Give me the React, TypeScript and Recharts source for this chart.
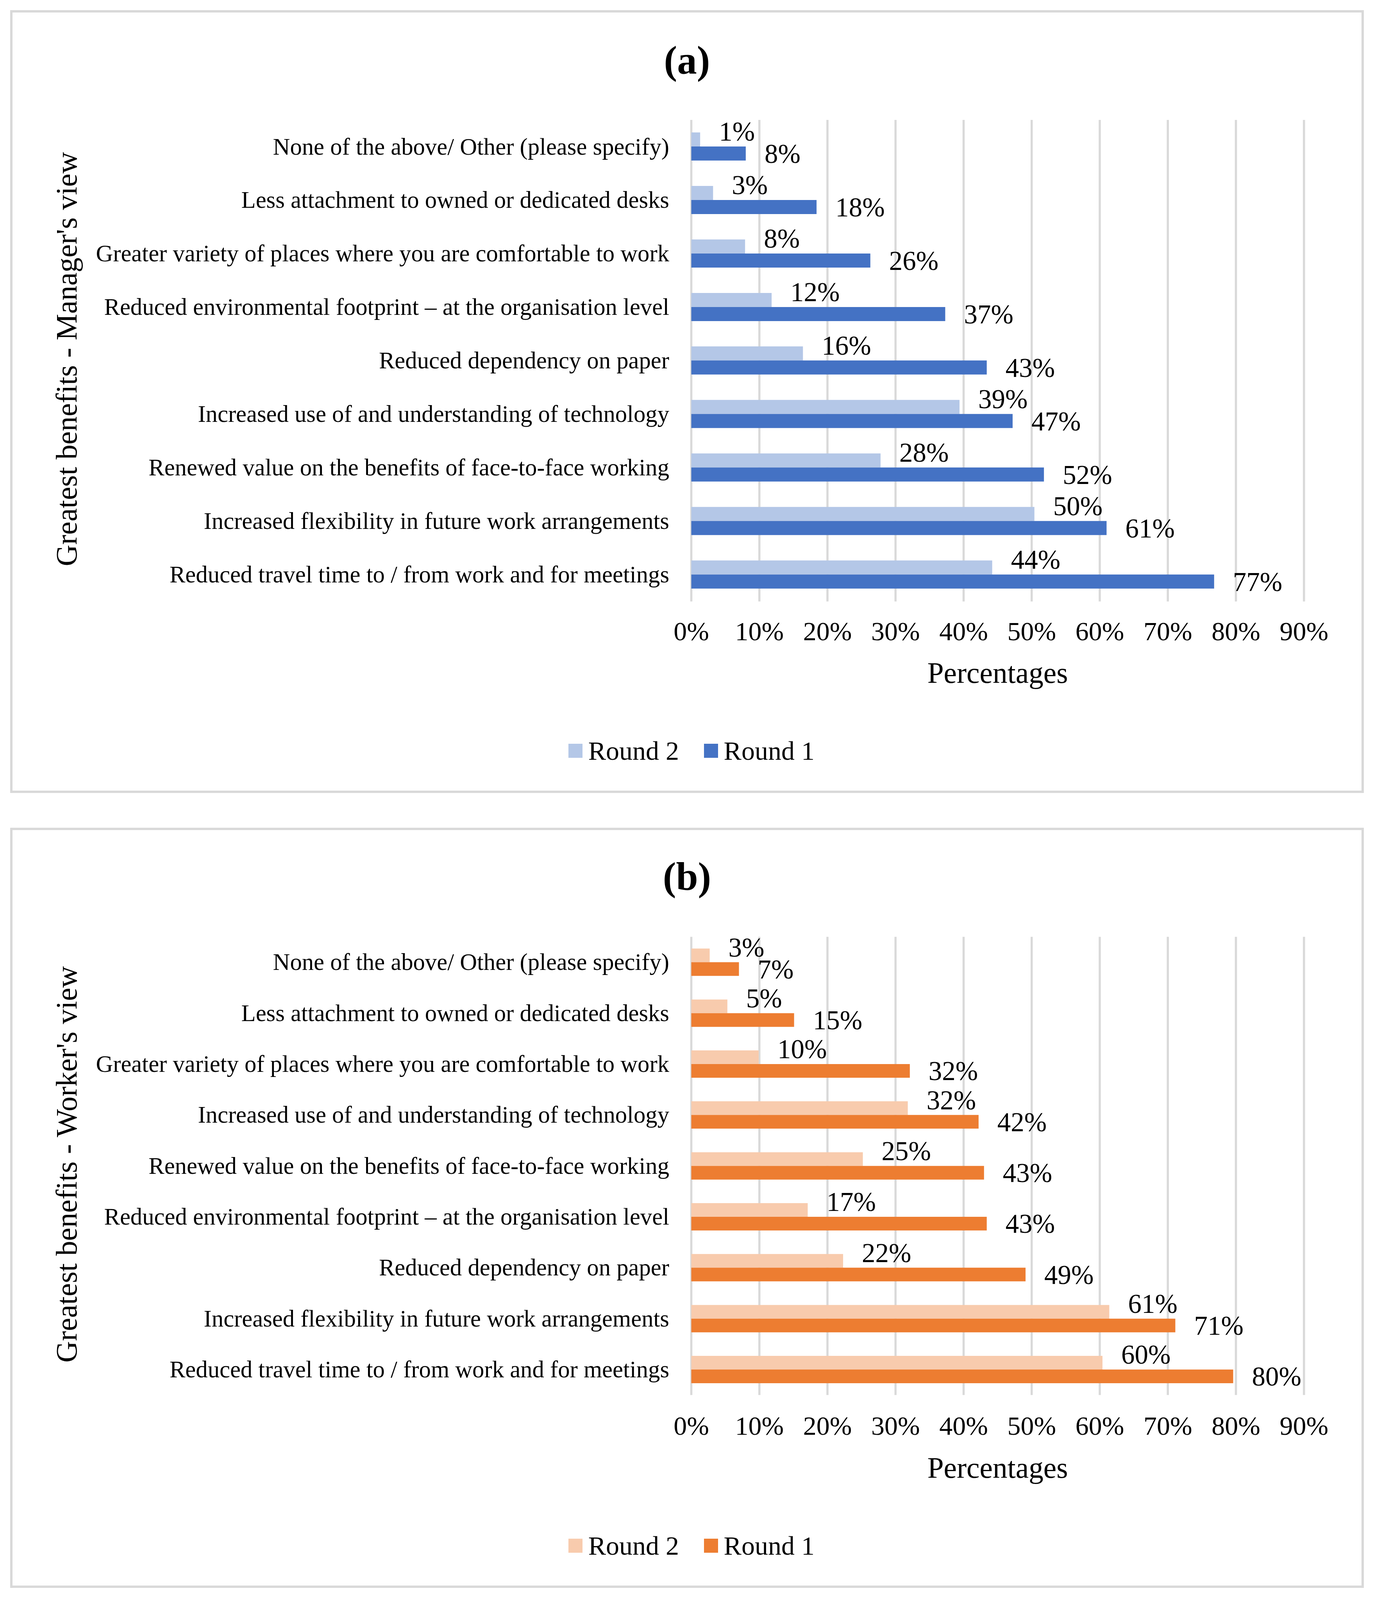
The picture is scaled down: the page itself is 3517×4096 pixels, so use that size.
import React from 'react';
import { BarChart, Bar, XAxis, YAxis, CartesianGrid, Legend, LabelList } from 'recharts';

const FONT = '"Liberation Serif", "Times New Roman", Times, serif';

// ---------- data ----------
const managerCategories = [
  'None of the above/ Other (please specify)',
  'Less attachment to owned or dedicated desks',
  'Greater variety of places where you are comfortable to work',
  'Reduced environmental footprint \u2013 at the organisation level',
  'Reduced dependency on paper',
  'Increased use of and understanding of technology',
  'Renewed value on the benefits of face-to-face working',
  'Increased flexibility in future work arrangements',
  'Reduced travel time to / from work and for meetings',
];
const managerRound2 = [1.3, 3.2, 7.9, 11.8, 16.4, 39.4, 27.8, 50.4, 44.2];
const managerRound1 = [8.0, 18.4, 26.3, 37.3, 43.4, 47.2, 51.8, 61.0, 76.8];

const workerCategories = [
  'None of the above/ Other (please specify)',
  'Less attachment to owned or dedicated desks',
  'Greater variety of places where you are comfortable to work',
  'Increased use of and understanding of technology',
  'Renewed value on the benefits of face-to-face working',
  'Reduced environmental footprint \u2013 at the organisation level',
  'Reduced dependency on paper',
  'Increased flexibility in future work arrangements',
  'Reduced travel time to / from work and for meetings',
];
const workerRound2 = [2.7, 5.3, 9.9, 31.8, 25.2, 17.1, 22.3, 61.4, 60.4];
const workerRound1 = [7.0, 15.1, 32.1, 42.2, 43.0, 43.4, 49.1, 71.1, 79.6];

const xTicks = [0, 10, 20, 30, 40, 50, 60, 70, 80, 90];
const seriesNames = ['Round 2', 'Round 1'];
const managerColors = ['#B4C7E7', '#4472C4'];
const workerColors = ['#F8CBAD', '#ED7D31'];
const panelTitles = ['(a)', '(b)'];
const yTitles = ["Greatest benefits - Manager's view", "Greatest benefits - Worker's view"];
const xTitle = 'Percentages';

const buildRows = (cats: string[], r2: number[], r1: number[]) =>
  cats.map((name, i) => ({ name, r2: r2[i], r1: r1[i] }));

// ---------- renderers ----------
const CategoryTick = (props: any) => {
  const { x, y, payload } = props;
  return (
    <text x={x} y={y} dy="0.33em" textAnchor="end" fontFamily={FONT} fontSize={60.7} fill="#000">
      {payload.value}
    </text>
  );
};

const makeXTick = (baseline: number) => (props: any) => {
  const { x, y, payload } = props;
  return (
    <text x={x} y={Number(y) + baseline} textAnchor="middle" fontFamily={FONT} fontSize={68} fill="#000">
      {payload.value}%
    </text>
  );
};

const makeValueLabel = (shift: number) => (props: any) => {
  const { x, y, width, height, value } = props;
  const lx = Number(x) + Number(width) + 48;
  const ly = Number(y) + Number(height) / 2 + shift;
  return (
    <text x={lx} y={ly} dy="0.33em" textAnchor="start" fontFamily={FONT} fontSize={69} fill="#000">
      {Math.round(Number(value))}%
    </text>
  );
};

const makeXTitle = (baseline: number) => (props: any) => {
  const vb = props.viewBox || {};
  return (
    <text x={vb.x + vb.width / 2} y={vb.y + baseline} textAnchor="middle" fontFamily={FONT} fontSize={75.4} fill="#000">
      {xTitle}
    </text>
  );
};

const makeYTitle = (text: string) => (props: any) => {
  const vb = props.viewBox || {};
  const bx = vb.x + 196;
  const cy = vb.y + vb.height / 2 - 4;
  return (
    <text
      x={bx}
      y={cy}
      transform={`rotate(-90, ${bx}, ${cy})`}
      textAnchor="middle"
      fontFamily={FONT}
      fontSize={76.3}
      fill="#000"
    >
      {text}
    </text>
  );
};

const makeLegend = (colors: string[]) => (props: any) => {
  const payload = [...(props.payload || [])].sort(
    (a: any, b: any) => seriesNames.indexOf(a.value) - seriesNames.indexOf(b.value)
  );
  return (
    <div
      style={{
        display: 'flex',
        alignItems: 'center',
        height: 68,
        fontFamily: FONT,
        fontSize: 68,
        lineHeight: 1,
        whiteSpace: 'nowrap',
        color: '#000',
      }}
    >
      {payload.map((e: any, i: number) => (
        <div key={i} style={{ display: 'flex', alignItems: 'center', marginLeft: i ? 63.8 : 0 }}>
          <div
            style={{
              width: 36,
              height: 36,
              background: colors[seriesNames.indexOf(e.value)] || e.color,
              marginRight: 14.7,
            }}
          />
          <span>{e.value}</span>
        </div>
      ))}
    </div>
  );
};

type PanelProps = {
  rows: any[];
  colors: string[];
  yTitle: string;
  top: number;
  height: number;
  plotTop: number;
  plotBottom: number;
  barSize: number;
  tickBaseline: number;
  titleBaseline: number;
  legendTop: number;
};

const CHART_W = 3517;
const Y_AXIS_W = 1769.5;
const RIGHT_MARGIN = 179.2;
const X_AXIS_H = 230;

const Panel = (p: PanelProps) => {
  const bottomMargin = p.height - p.plotBottom - X_AXIS_H;
  return (
    <div style={{ position: 'absolute', left: 0, top: p.top, width: CHART_W, height: p.height }}>
      <BarChart
        width={CHART_W}
        height={p.height}
        data={p.rows}
        layout="vertical"
        barGap={0}
        margin={{ top: p.plotTop, right: RIGHT_MARGIN, bottom: bottomMargin, left: 0 }}
      >
        <CartesianGrid horizontal={false} stroke="#D9D9D9" strokeWidth={5.5} />
        <XAxis
          type="number"
          domain={[0, 90]}
          ticks={xTicks}
          interval={0}
          height={X_AXIS_H}
          axisLine={false}
          tickLine={false}
          tickSize={0}
          tickMargin={0}
          tick={makeXTick(p.tickBaseline)}
          label={makeXTitle(p.titleBaseline)}
        />
        <YAxis
          type="category"
          dataKey="name"
          width={Y_AXIS_W}
          interval={0}
          axisLine={false}
          tickLine={false}
          tickSize={0}
          tickMargin={56.5}
          tick={CategoryTick}
          label={makeYTitle(p.yTitle)}
        />
        <Legend
          layout="horizontal"
          verticalAlign="middle"
          align="center"
          wrapperStyle={{ top: p.legendTop, left: 1455, width: 'auto', height: 68 }}
          content={makeLegend(p.colors)}
        />
        <Bar dataKey="r2" name={seriesNames[0]} fill={p.colors[0]} barSize={p.barSize} isAnimationActive={false}>
          <LabelList dataKey="r2" content={makeValueLabel(-20)} />
        </Bar>
        <Bar dataKey="r1" name={seriesNames[1]} fill={p.colors[1]} barSize={p.barSize} isAnimationActive={false}>
          <LabelList dataKey="r1" content={makeValueLabel(1)} />
        </Bar>
      </BarChart>
    </div>
  );
};

const borderStyle = (top: number, height: number): React.CSSProperties => ({
  position: 'absolute',
  left: 25.7,
  top,
  width: 3465.6,
  height,
  boxSizing: 'border-box',
  border: '6.4px solid #D9D9D9',
  background: '#fff',
});

export default function App() {
  const managerRows = buildRows(managerCategories, managerRound2, managerRound1);
  const workerRows = buildRows(workerCategories, workerRound2, workerRound1);
  return (
    <div
      style={{
        position: 'absolute',
        left: 0,
        top: 0,
        width: 3517,
        height: 4096,
        background: '#fff',
        overflow: 'hidden',
      }}
    >
      <div style={borderStyle(25.7, 2004.3)} />
      <div style={borderStyle(2119.3, 1946)} />
      <svg width={3517} height={4096} style={{ position: 'absolute', left: 0, top: 0 }}>
        <text x={1758.5} y={188.4} textAnchor="middle" fontFamily={FONT} fontWeight="bold" fontSize={101} fill="#000">
          {panelTitles[0]}
        </text>
        <text x={1758.5} y={2278} textAnchor="middle" fontFamily={FONT} fontWeight="bold" fontSize={101} fill="#000">
          {panelTitles[1]}
        </text>
      </svg>
      <Panel
        rows={managerRows}
        colors={managerColors}
        yTitle={yTitles[0]}
        top={0}
        height={2040}
        plotTop={307}
        plotBottom={1539.7}
        barSize={36}
        tickBaseline={99.3}
        titleBaseline={208.3}
        legendTop={1887.5}
      />
      <Panel
        rows={workerRows}
        colors={workerColors}
        yTitle={yTitles[1]}
        top={2100}
        height={1990}
        plotTop={298.3}
        plotBottom={1471.3}
        barSize={35}
        tickBaseline={101.8}
        titleBaseline={212}
        legendTop={1822.5}
      />
    </div>
  );
}
